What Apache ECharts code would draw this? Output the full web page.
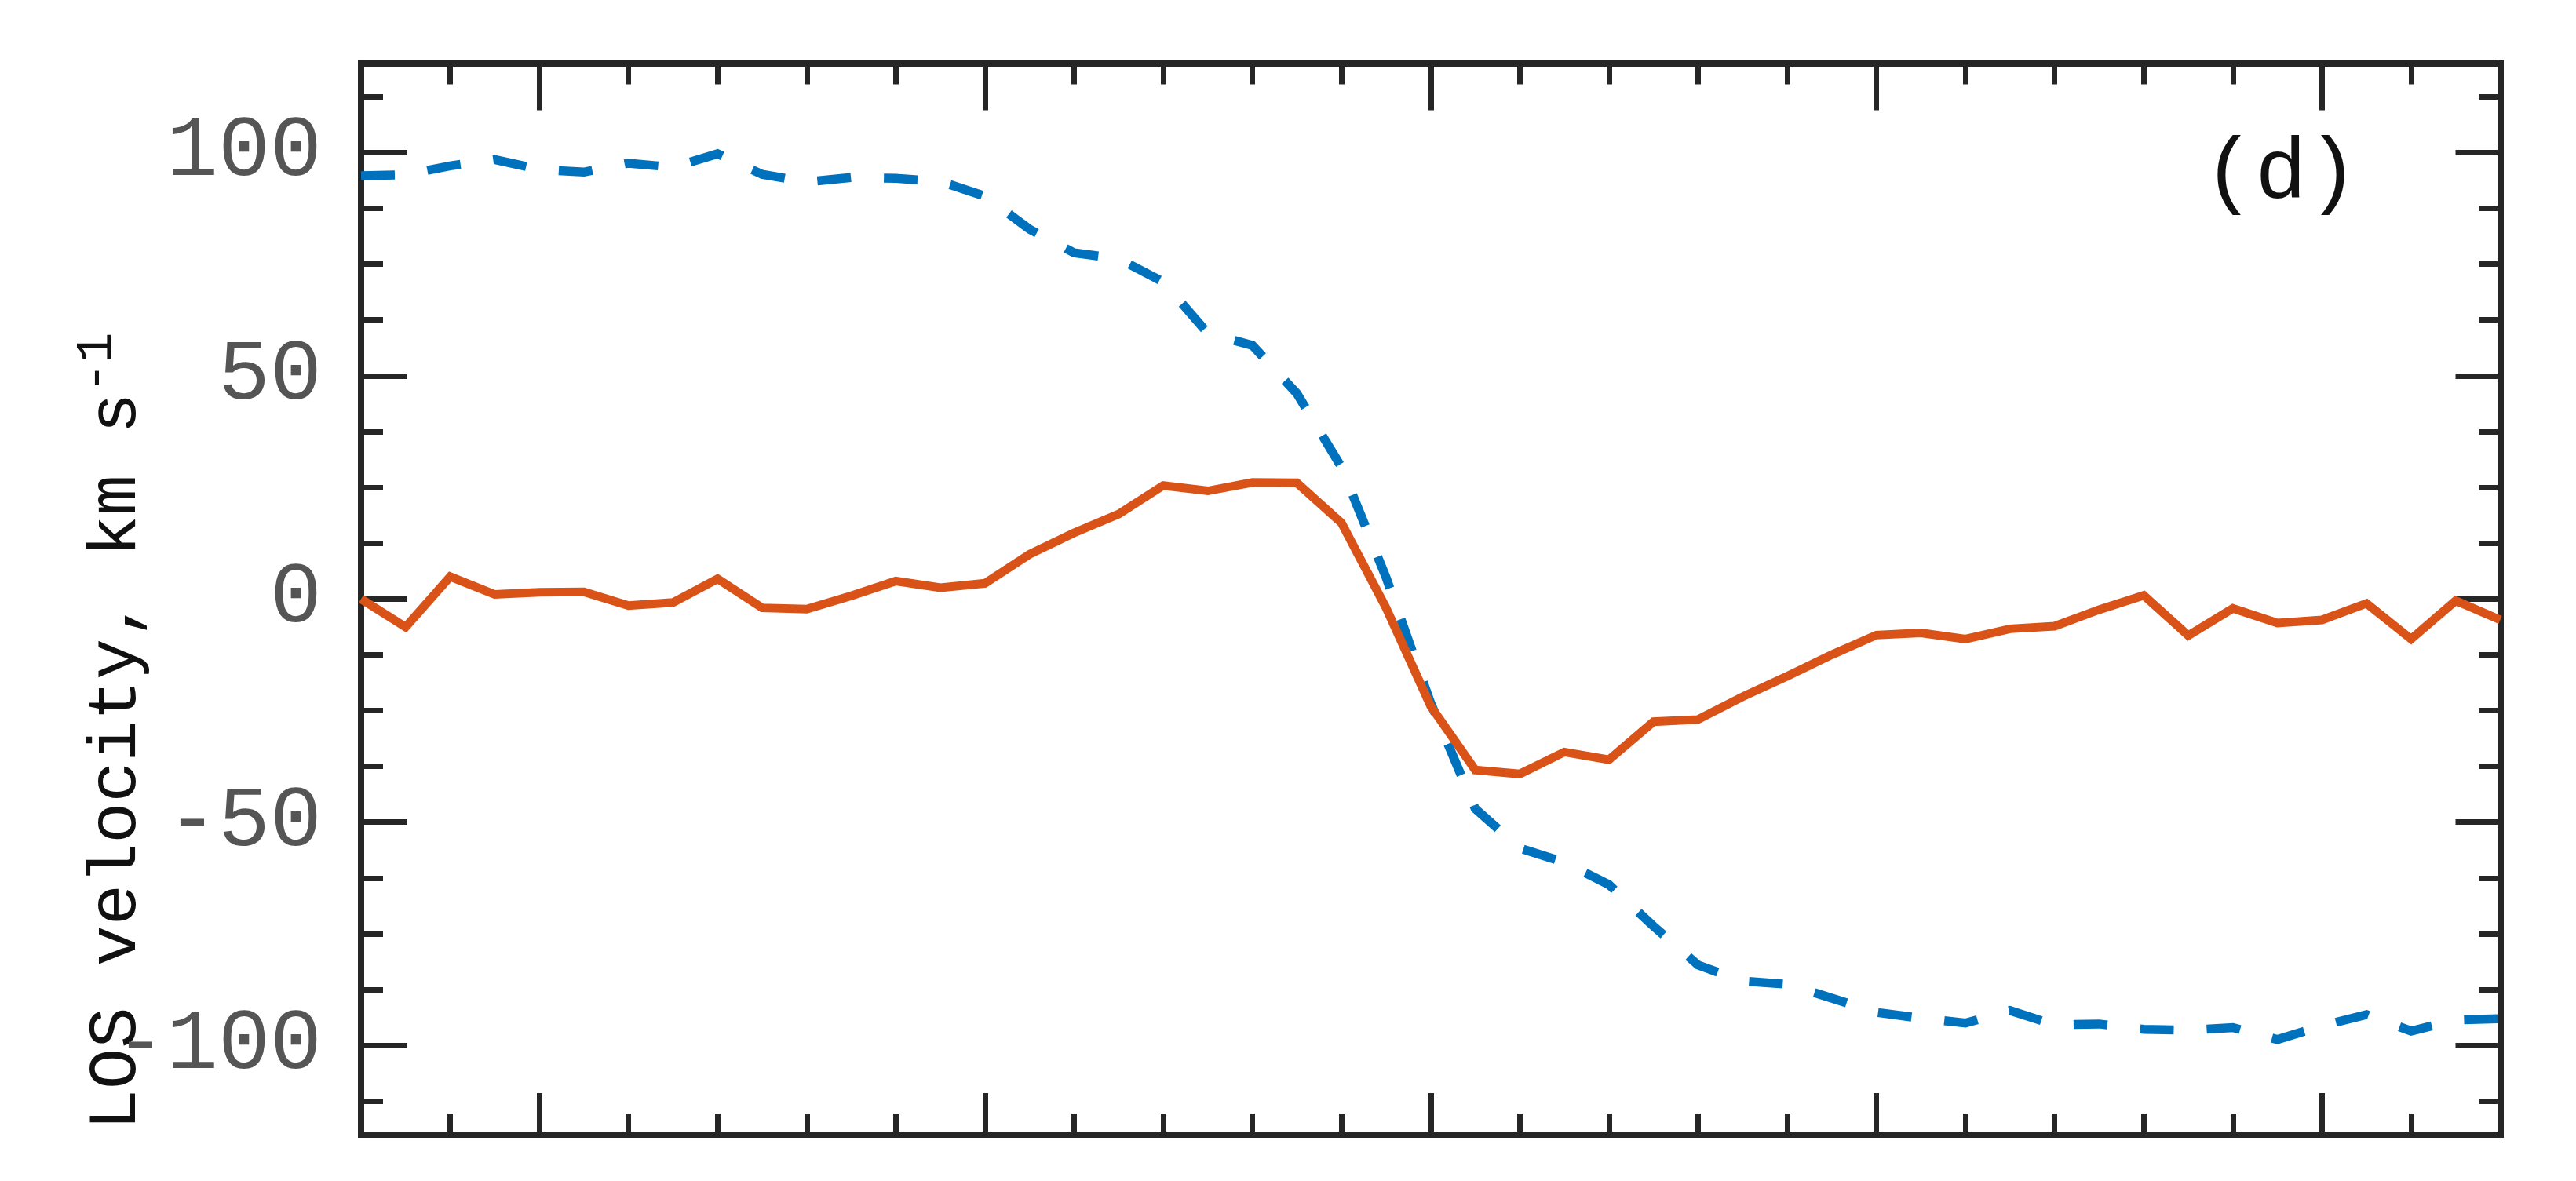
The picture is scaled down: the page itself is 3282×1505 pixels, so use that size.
<!DOCTYPE html>
<html>
<head>
<meta charset="utf-8">
<script src="https://cdn.jsdelivr.net/npm/echarts@6/dist/echarts.min.js"></script>
<style>
html,body{margin:0;padding:0;background:#fff;}
#chart{width:3282px;height:1505px;}
</style>
</head>
<body>
<div id="chart"></div>
<script>
// ---- data ----
const positions = [-12,-11.5,-11,-10.5,-10,-9.5,-9,-8.5,-8,-7.5,-7,-6.5,-6,-5.5,-5,-4.5,-4,-3.5,-3,-2.5,-2,-1.5,-1,-0.5,0,0.5,1,1.5,2,2.5,3,3.5,4,4.5,5,5.5,6,6.5,7,7.5,8,8.5,9,9.5,10,10.5,11,11.5,12];
const solidVelocity = [0,-6.3,5.0,1.0,1.5,1.6,-1.5,-0.8,4.5,-2.0,-2.3,0.7,4.0,2.5,3.5,10.0,14.8,19.0,25.4,24.2,26.1,26.0,17.0,-2.0,-24.0,-38.3,-39.2,-34.3,-36.0,-27.5,-27.0,-21.9,-17.3,-12.5,-8.1,-7.6,-9.0,-6.7,-6.1,-2.4,0.8,-8.2,-2.1,-5.4,-4.7,-1.0,-9.0,-0.4,-4.7];
const dashedVelocity = [94.8,95.0,97.0,98.4,96.2,95.6,97.6,96.7,99.7,95.1,93.4,94.4,94.2,93.5,90.2,82.8,77.5,76.2,71.0,59.5,56.8,46.0,29.5,4.8,-23.3,-47.0,-55.8,-59.0,-64.0,-73.3,-82.0,-85.6,-86.3,-89.4,-92.6,-93.9,-95.0,-92.2,-95.4,-95.2,-96.4,-96.6,-96.0,-98.7,-95.6,-93.1,-96.8,-94.3,-94.0];
const xMajorTicks = [-10,-5,0,5,10];
const xMinorTicks = [-11,-9,-8,-7,-6,-4,-3,-2,-1,1,2,3,4,6,7,8,9,11];
const yMajorTicks = [-100,-50,0,50,100];
const yMinorTicks = [-112.5,-87.5,-75,-62.5,-37.5,-25,-12.5,12.5,25,37.5,62.5,75,87.5,112.5];
const xRange = [-12, 12];
const yRange = [-120, 120];
const yTitle = 'LOS velocity, km s';
const yTitleSup = '-1';
const panelLabel = '(d)';

// ---- chart ----
const AX = '#262626';
const MONO = '"Liberation Mono", "DejaVu Sans Mono", monospace';
const chart = echarts.init(document.getElementById('chart'), null, {renderer: 'canvas'});

function xAxisDef(position, ticks, len, showLine, showLabels) {
  return {
    type: 'value', position: position, min: xRange[0], max: xRange[1],
    axisLine: {show: showLine, onZero: false, lineStyle: {color: AX, width: 8, cap: 'square'}},
    axisTick: {show: true, inside: true, length: len, customValues: ticks, lineStyle: {color: AX, width: 7}},
    axisLabel: showLabels ? {show: true, customValues: ticks, margin: 51, fontFamily: MONO, fontSize: 110, color: '#555'} : {show: false},
    splitLine: {show: false}
  };
}
function yAxisDef(position, ticks, len, showLine, showLabels) {
  return {
    type: 'value', position: position, min: yRange[0], max: yRange[1],
    axisLine: {show: showLine, onZero: false, lineStyle: {color: AX, width: 8, cap: 'square'}},
    axisTick: {show: true, inside: true, length: len, customValues: ticks, lineStyle: {color: AX, width: 7}},
    axisLabel: showLabels ? {show: true, customValues: ticks, margin: 50, fontFamily: MONO, fontSize: 110, color: '#555'} : {show: false},
    splitLine: {show: false}
  };
}

const option = {
  animation: false,
  backgroundColor: '#fff',
  grid: {left: 460, right: 96.5, top: 80.5, bottom: 59, containLabel: false, outerBoundsMode: 'none'},
  xAxis: [
    xAxisDef('bottom', xMajorTicks, 53, true, true),
    xAxisDef('bottom', xMinorTicks, 27, false, false),
    xAxisDef('top', xMajorTicks, 60, true, false),
    xAxisDef('top', xMinorTicks, 27, false, false)
  ],
  yAxis: [
    yAxisDef('left', yMajorTicks, 59, true, true),
    yAxisDef('left', yMinorTicks, 28, false, false),
    yAxisDef('right', yMajorTicks, 57, true, false),
    yAxisDef('right', yMinorTicks, 27, false, false)
  ],
  series: [
    {
      name: 'dashed', type: 'line', xAxisIndex: 0, yAxisIndex: 0,
      data: positions.map((p, i) => [p, dashedVelocity[i]]),
      showSymbol: false, symbol: 'none', smooth: false,
      lineStyle: {color: '#0072BD', width: 11.5, type: [43, 42], cap: 'butt', join: 'miter'},
      z: 3
    },
    {
      name: 'solid', type: 'line', xAxisIndex: 0, yAxisIndex: 0,
      data: positions.map((p, i) => [p, solidVelocity[i]]),
      showSymbol: false, symbol: 'none', smooth: false,
      lineStyle: {color: '#D95319', width: 11, join: 'miter'},
      z: 4
    }
  ],
  graphic: [
    {
      type: 'text', x: 142, y: 932, rotation: Math.PI / 2,
      style: {
        text: '{a|' + yTitle + '}{b|' + yTitleSup + '}',
        align: 'center', verticalAlign: 'middle',
        rich: {
          a: {fontFamily: MONO, fontSize: 87, lineHeight: 100, verticalAlign: 'bottom', fill: '#111'},
          b: {fontFamily: MONO, fontSize: 64, lineHeight: 30, verticalAlign: 'top', fill: '#111'}
        }
      }
    },
    {
      type: 'text', x: 2906, y: 222,
      style: {text: panelLabel, fontFamily: MONO, fontSize: 110, fill: '#111', align: 'center', verticalAlign: 'middle'}
    }
  ]
};
chart.setOption(option);
</script>
</body>
</html>
